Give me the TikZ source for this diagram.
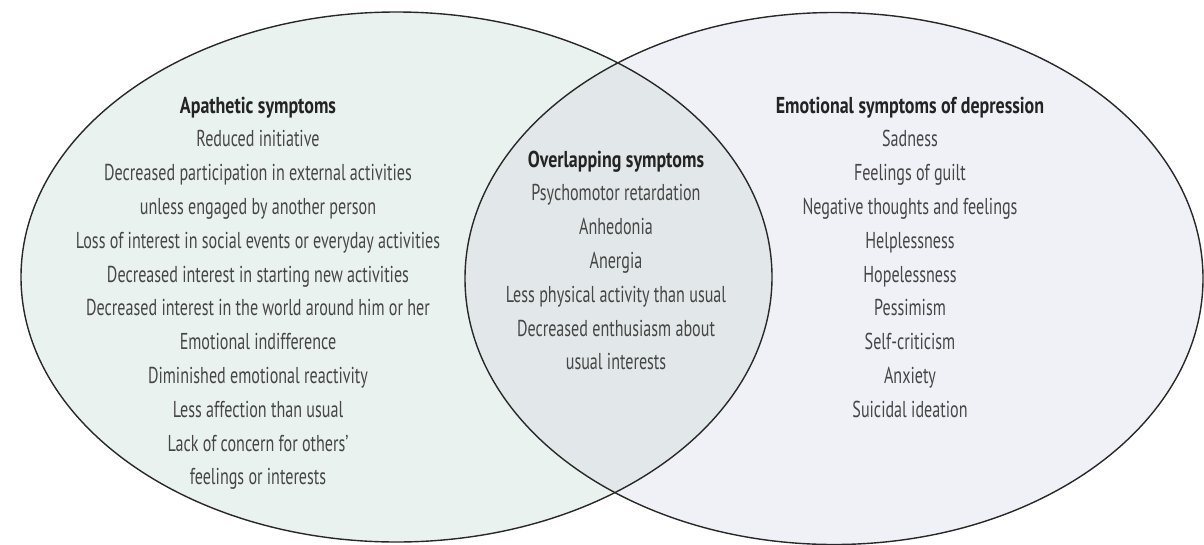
\documentclass[tikz,border=0pt]{standalone}
\usepackage{fontspec}
\setmainfont[FakeStretch=0.7, BoldFeatures={FakeStretch=0.78}]{PT Sans}
\definecolor{apathyfill}{RGB}{234,242,239}
\definecolor{emofill}{RGB}{240,241,247}
\definecolor{overlapfill}{RGB}{226,232,233}
\definecolor{rimline}{RGB}{40,40,40}
\definecolor{itemtext}{RGB}{70,70,70}
\definecolor{headtext}{RGB}{35,35,35}
\tikzset{
    rim/.style={draw=rimline, line width=1.4pt},
    symptoms/.style={anchor=north, align=center, inner sep=0pt,
        text=itemtext, font=\fontsize{23}{33.8}\selectfont},
}
\newcommand{\headline}[1]{\textbf{\color{headtext}#1}}

\begin{document}
\begin{tikzpicture}[x=1pt, y=-1pt]
    \useasboundingbox[fill=white] (0,0) rectangle (1204,544);

    \fill[apathyfill] (396.5,277) ellipse (375.5 and 265);
    \fill[emofill] (834,278.5) ellipse (369 and 266);
    \begin{scope}
        \clip (396.5,277) ellipse (375.5 and 265);
        \fill[overlapfill] (834,278.5) ellipse (369 and 266);
    \end{scope}
    \draw[rim] (396.5,277) ellipse (375.5 and 265);
    \draw[rim] (834,278.5) ellipse (369 and 266);

    \node[symptoms] (apathy) at (258,96.5) {\headline{Apathetic symptoms}\\
        Reduced initiative\\
        Decreased participation in external activities\\
        unless engaged by another person\\
        Loss of interest in social events or everyday activities\\
        Decreased interest in starting new activities\\
        Decreased interest in the world around him or her\\
        Emotional indifference\\
        Diminished emotional reactivity\\
        Less affection than usual\\
        Lack of concern for others'\\
        feelings or interests};

    \node[symptoms] (overlap) at (616,150.5) {\headline{Overlapping symptoms}\\
        Psychomotor retardation\\
        Anhedonia\\
        Anergia\\
        Less physical activity than usual\\
        Decreased enthusiasm about\\
        usual interests};

    \node[symptoms] (emotional) at (910,96.5) {\headline{Emotional symptoms of depression}\\
        Sadness\\
        Feelings of guilt\\
        Negative thoughts and feelings\\
        Helplessness\\
        Hopelessness\\
        Pessimism\\
        Self-criticism\\
        Anxiety\\
        Suicidal ideation};
\end{tikzpicture}
\end{document}
